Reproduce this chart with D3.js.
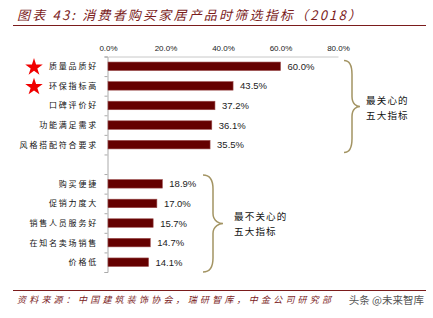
<!DOCTYPE html>
<html>
<head>
<meta charset="utf-8">
<script src="https://cdn.jsdelivr.net/npm/d3@7"></script>
<style>
  body { margin: 0; background: #fff; }
  svg { display: block; font-family: "Noto Sans CJK SC", "Noto Sans", sans-serif; }
</style>
</head>
<body>
<svg id="chart" width="433" height="318"></svg>
<script>
// data
var topCats = ['质量品质好', '环保指标高', '口碑评价好', '功能满足需求', '风格搭配符合要求'];
var topVals = [60.0, 43.5, 37.2, 36.1, 35.5];
var bottomCats = ['购买便捷', '促销力度大', '销售人员服务好', '在知名卖场销售', '价格低'];
var bottomVals = [18.9, 17.0, 15.7, 14.7, 14.1];
var xTicks = [0, 20, 40, 60, 80];
var starred = ['质量品质好', '环保指标高'];

function buildChart() {
  var svg = d3.select('#chart');
  var red = '#7b1c1c';

  // title
  svg.append('text')
    .attr('x', 17).attr('y', 20)
    .attr('font-size', 13).attr('font-style', 'italic').attr('letter-spacing', 2.2)
    .attr('fill', red)
    .text('图表 43:  消费者购买家居产品时筛选指标（2018）');
  svg.append('line')
    .attr('x1', 13).attr('x2', 426).attr('y1', 25.5).attr('y2', 25.5)
    .attr('stroke', red).attr('stroke-width', 1);

  // rows: top five, one empty slot, bottom five
  var rows = topCats.map((c, i) => ({ cat: c, val: topVals[i] }))
    .concat([{ cat: '', val: null }])
    .concat(bottomCats.map((c, i) => ({ cat: c, val: bottomVals[i] })));

  var x = d3.scaleLinear().domain([0, 80]).range([108, 338]);
  var y = d3.scaleBand()
    .domain(d3.range(rows.length))
    .range([56.5, 272])
    .paddingInner(0);

  // top axis
  var xAxisG = svg.append('g')
    .attr('transform', 'translate(0,' + 56.5 + ')')
    .call(d3.axisTop(x).tickValues(xTicks).tickSize(0).tickPadding(6)
      .tickFormat(d => d.toFixed(1) + '%'));
  xAxisG.select('.domain').attr('stroke', '#c8c8c8');
  xAxisG.selectAll('text').attr('font-size', 8).attr('fill', '#222')
    .attr('font-family', 'Liberation Sans, Arial, sans-serif');

  // left axis with ticks on band edges
  var edges = d3.range(rows.length + 1).map(i => 56.5 + i * y.step());
  var yEdge = d3.scaleLinear().domain([56.5, 272]).range([56.5, 272]);
  var yAxisG = svg.append('g')
    .attr('transform', 'translate(' + 107.5 + ',0)')
    .call(d3.axisLeft(yEdge).tickValues(edges).tickSize(3).tickFormat(''));
  yAxisG.select('.domain').attr('stroke', '#aaa');
  yAxisG.selectAll('line').attr('stroke', '#aaa');

  var data = rows.filter(d => d.val !== null);
  var idx = d => rows.indexOf(d);
  var barH = 8.5;

  svg.selectAll('.bar')
    .data(data)
    .enter().append('rect')
    .attr('class', 'bar')
    .attr('x', x(0))
    .attr('y', d => y(idx(d)) + y.bandwidth() / 2 - barH / 2)
    .attr('width', d => x(d.val) - x(0))
    .attr('height', barH)
    .attr('fill', '#650000')
    .attr('stroke', '#9a4a4a')
    .attr('stroke-width', 0.6);

  svg.selectAll('.val')
    .data(data)
    .enter().append('text')
    .attr('x', d => x(d.val) + 7)
    .attr('y', d => y(idx(d)) + y.bandwidth() / 2 + 3.5)
    .attr('font-size', 9.5).attr('fill', '#222')
    .attr('font-family', 'Liberation Sans, Arial, sans-serif')
    .text(d => d.val.toFixed(1) + '%');

  svg.selectAll('.cat')
    .data(data)
    .enter().append('text')
    .attr('x', 98)
    .attr('y', d => y(idx(d)) + y.bandwidth() / 2 + 3)
    .attr('text-anchor', 'end')
    .attr('font-size', 8).attr('letter-spacing', 1.8)
    .attr('fill', '#111')
    .text(d => d.cat);

  // stars
  var star = d3.symbol().type(d3.symbolStar).size(95);
  svg.selectAll('.star')
    .data(data.filter(d => starred.indexOf(d.cat) >= 0))
    .enter().append('path')
    .attr('d', star)
    .attr('transform', d => 'translate(' + [34, y(idx(d)) + y.bandwidth() / 2 + 1] + ')')
    .attr('fill', '#f00000');

  // braces
  function brace(x0, y0, y1, w) {
    var ym = (y0 + y1) / 2, c = w * 0.5;
    return 'M' + x0 + ',' + y0 +
      ' C' + (x0 + c) + ',' + y0 + ' ' + (x0 + c) + ',' + (y0 + 10) + ' ' + (x0 + c) + ',' + (y0 + 14) +
      ' L' + (x0 + c) + ',' + (ym - 10) +
      ' C' + (x0 + c) + ',' + (ym - 2) + ' ' + (x0 + w - 3) + ',' + ym + ' ' + (x0 + w) + ',' + ym +
      ' C' + (x0 + w - 3) + ',' + ym + ' ' + (x0 + c) + ',' + (ym + 2) + ' ' + (x0 + c) + ',' + (ym + 10) +
      ' L' + (x0 + c) + ',' + (y1 - 14) +
      ' C' + (x0 + c) + ',' + (y1 - 10) + ' ' + (x0 + c) + ',' + y1 + ' ' + x0 + ',' + y1;
  }
  var braceCol = '#a39463';
  svg.append('path')
    .attr('d', brace(344, y(0) + 4, y(4) + y.bandwidth() - 2, 16))
    .attr('fill', 'none').attr('stroke', braceCol).attr('stroke-width', 1.5);
  svg.append('path')
    .attr('d', brace(203, y(6) + 1, y(10) + y.bandwidth(), 20))
    .attr('fill', 'none').attr('stroke', braceCol).attr('stroke-width', 1.5);

  function note(lines, x0, y0) {
    svg.append('g').selectAll('text')
      .data(lines).enter().append('text')
      .attr('x', x0).attr('y', (d, i) => y0 + i * 15)
      .attr('font-size', 9.5).attr('letter-spacing', 1.2)
      .attr('fill', '#111')
      .text(d => d);
  }
  note(['最关心的', '五大指标'], 366, 104);
  note(['最不关心的', '五大指标'], 234, 220);

  // footer
  svg.append('line')
    .attr('x1', 13).attr('x2', 426).attr('y1', 290.5).attr('y2', 290.5)
    .attr('stroke', red).attr('stroke-width', 1);
  svg.append('text')
    .attr('x', 17).attr('y', 303)
    .attr('font-size', 9).attr('font-style', 'italic').attr('letter-spacing', 3.2)
    .attr('fill', red)
    .text('资料来源：中国建筑装饰协会，瑞研智库，中金公司研究部');
  svg.append('text')
    .attr('x', 424).attr('y', 304)
    .attr('text-anchor', 'end')
    .attr('font-size', 10.5).attr('fill', '#555')
    .text('头条 @未来智库');
}

buildChart();
</script>
</body>
</html>
